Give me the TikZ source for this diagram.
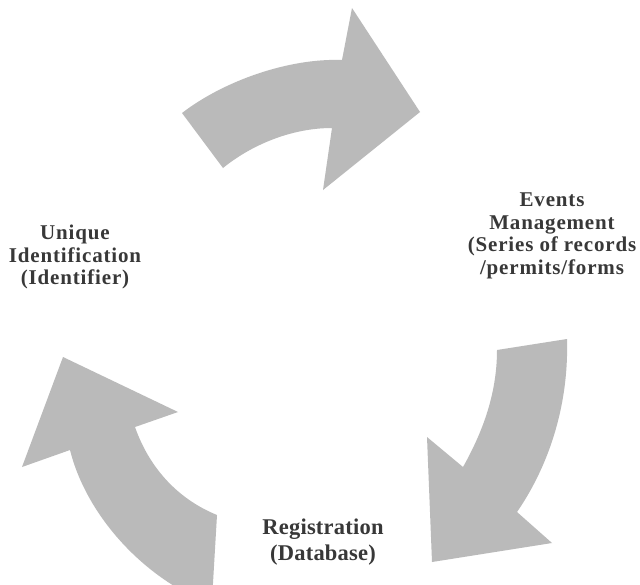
\documentclass[tikz,border=0pt]{standalone}
\usepackage{fontspec}
\setmainfont{Liberation Serif}
\newfontfamily\labelfont[LetterSpace=4]{Liberation Serif}
\newfontfamily\bottomfont[LetterSpace=1]{Liberation Serif}
\definecolor{arrowgray}{HTML}{BABABA}
\definecolor{labelgray}{HTML}{383838}
\begin{document}
\begin{tikzpicture}[x=1pt,y=-1pt,
  cyclearrow/.style={fill=arrowgray,draw=none},
  steplabel/.style={align=center,text=labelgray,inner sep=0pt,
    font=\labelfont\bfseries\fontsize{21}{22.5}\selectfont},
  baselabel/.style={align=center,text=labelgray,inner sep=0pt,
    font=\bottomfont\bfseries\fontsize{22.5}{26}\selectfont}]
\clip (0,0) rectangle (640,584);
\fill[white] (0,0) rectangle (640,584);

% top arrow, pointing right
\fill[cyclearrow] (182,113) .. controls (225,80) and (290,58) .. (342,60)
  -- (352,8) -- (420,112) -- (323,190) -- (332,128)
  .. controls (290,128) and (250,146) .. (223,168) -- cycle;

% right arrow, pointing down-left
\fill[cyclearrow] (567,339) .. controls (569,410) and (546,470) .. (517,512)
  -- (552,543) -- (432,562) -- (427,437) -- (463,467)
  .. controls (485,428) and (497,390) .. (497,350) -- cycle;

% left arrow, pointing up
\fill[cyclearrow] (217,515) .. controls (180,500) and (150,470) .. (135,427)
  -- (178,412) -- (63,357) -- (22,467) -- (70,450)
  .. controls (85,510) and (135,570) .. (200,600)
  -- (212,600) -- cycle;

% stage labels
\node[steplabel] (events) at (552,236)
  {Events\\Management\\(Series of records\\/permits/forms};
\node[steplabel] (unique) at (75,257)
  {Unique\\Identification\\(Identifier)};
\node[baselabel] (registration) at (323,542)
  {Registration\\(Database)};
\end{tikzpicture}
\end{document}
